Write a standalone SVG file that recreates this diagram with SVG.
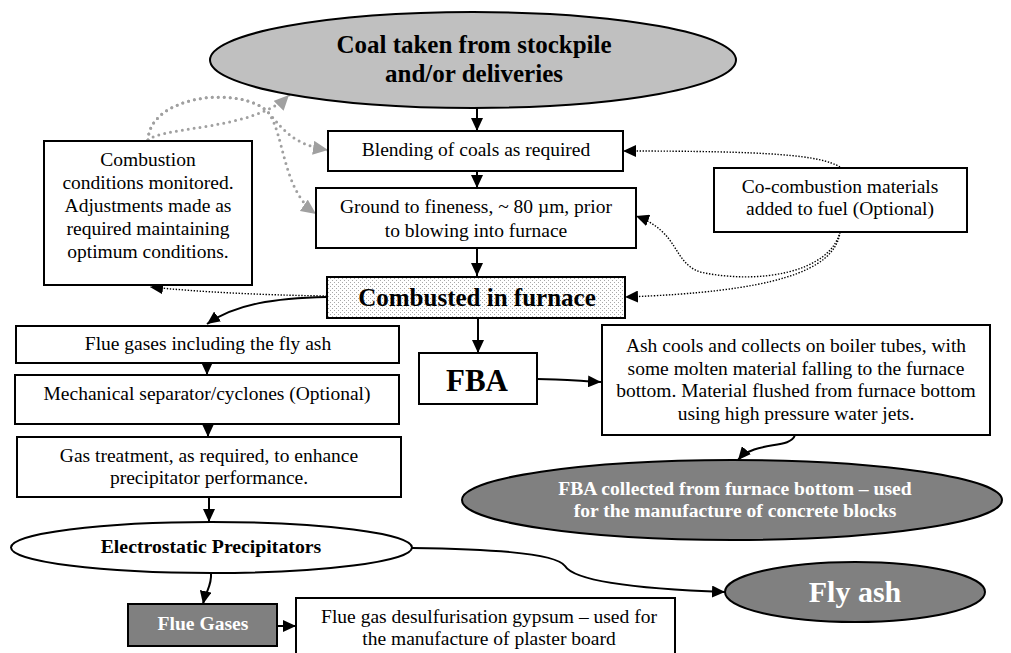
<svg xmlns="http://www.w3.org/2000/svg" width="1011" height="653" viewBox="0 0 1011 653">
<style>
text{font-family:'Liberation Serif','DejaVu Serif',serif;fill:#000;text-anchor:middle}
.r{font-size:19.5px}
.b{font-weight:bold}
.w{fill:#fff}
.box{fill:#fff;stroke:#000;stroke-width:2}
.dark{fill:#808080;stroke:#000;stroke-width:2}
.solid{fill:none;stroke:#000;stroke-width:2;marker-end:url(#ah)}
.dot{fill:none;stroke:#000;stroke-width:1.4;stroke-dasharray:1.4 1.6;marker-end:url(#ah)}
.gdot{fill:none;stroke:#a0a0a0;stroke-width:3;stroke-linecap:round;stroke-dasharray:0 6;marker-end:url(#gah)}
</style>
<defs>
<marker id="ah" markerUnits="userSpaceOnUse" markerWidth="13" markerHeight="12" refX="13" refY="6" orient="auto">
<path d="M0,0 L13,6 L0,12 z" fill="#000"/>
</marker>
<marker id="gah" markerUnits="userSpaceOnUse" markerWidth="15" markerHeight="14" refX="15" refY="7" orient="auto">
<path d="M0,0 L15,7 L0,14 z" fill="#a0a0a0"/>
</marker>
<pattern id="stip" width="4" height="4" patternUnits="userSpaceOnUse">
<rect width="4" height="4" fill="#fff"/>
<rect x="0" y="0" width="1" height="1" fill="#a8a8a8"/>
<rect x="2" y="2" width="1" height="1" fill="#a8a8a8"/>
</pattern>
</defs>

<g id="connectors">
<line class="solid" x1="477" y1="108" x2="477" y2="131"/>
<line class="solid" x1="477" y1="171" x2="477" y2="188"/>
<line class="solid" x1="477" y1="248" x2="477" y2="276"/>
<line class="solid" x1="478" y1="318" x2="478" y2="353"/>
<line class="solid" x1="207" y1="363" x2="207" y2="375"/>
<line class="solid" x1="208" y1="424" x2="208" y2="437"/>
<line class="solid" x1="209" y1="497" x2="209" y2="522"/>
<path class="solid" d="M537,379 C560,379 580,381 601,382"/>
<path class="solid" d="M327,297 C275,298 235,304 207,324"/>
<path class="solid" d="M795,435 C790,450 755,440 738,460"/>
<path class="solid" d="M211,573 C212,586 206,590 203,604"/>
<line class="solid" x1="277" y1="626" x2="296" y2="626"/>
<path class="solid" d="M412,548 C480,549 555,552 565,566 C575,582 640,589 725,592"/>
<path class="dot" d="M327,296 C260,295 200,292 150,287"/>
<path class="dot" d="M840,167 C820,155 770,151 623,151"/>
<path class="dot" d="M840,232 C830,272 760,285 700,272 C672,262 680,232 636,216"/>
<path class="dot" d="M840,232 C835,272 770,292 625,297"/>
<path class="gdot" d="M148,140 C150,95 240,85 268,112 C285,132 295,145 328,150"/>
<path class="gdot" d="M148,140 C150,95 240,85 268,112 C285,135 282,190 316,214"/>
<path class="gdot" d="M148,140 C165,126 255,130 289,95"/>
</g>

<g id="coal">
<ellipse cx="473" cy="60" rx="263" ry="48" fill="#c0c0c0" stroke="#000" stroke-width="2"/>
<text class="b" x="474" y="53" font-size="25">Coal taken from stockpile</text>
<text class="b" x="474" y="82" font-size="25">and/or deliveries</text>
</g>

<g id="blending">
<rect class="box" x="328" y="131" width="295" height="40"/>
<text class="r" x="476" y="156">Blending of coals as required</text>
</g>

<g id="ground">
<rect class="box" x="316" y="188" width="320" height="60"/>
<text class="r" x="476" y="213">Ground to fineness, ~ 80 µm, prior</text>
<text class="r" x="476" y="237">to blowing into furnace</text>
</g>

<g id="combusted">
<rect x="327" y="277" width="298" height="41" fill="url(#stip)" stroke="#000" stroke-width="2"/>
<text class="b" x="477" y="306" font-size="25">Combusted in furnace</text>
</g>

<g id="monitor">
<rect class="box" x="44" y="141" width="208" height="144"/>
<text class="r" x="148" y="166">Combustion</text>
<text class="r" x="148" y="189">conditions monitored.</text>
<text class="r" x="148" y="212">Adjustments made as</text>
<text class="r" x="148" y="235">required maintaining</text>
<text class="r" x="148" y="258">optimum conditions.</text>
</g>

<g id="cocombustion">
<rect class="box" x="714" y="168" width="253" height="64"/>
<text class="r" x="840" y="193">Co-combustion materials</text>
<text class="r" x="840" y="215">added to fuel (Optional)</text>
</g>

<g id="fba">
<rect class="box" x="419" y="353" width="118" height="51"/>
<text class="b" x="477" y="391" font-size="31">FBA</text>
</g>

<g id="ashcools">
<rect class="box" x="602" y="325" width="388" height="110"/>
<text class="r" x="796" y="352">Ash cools and collects on boiler tubes, with</text>
<text class="r" x="796" y="375">some molten material falling to the furnace</text>
<text class="r" x="796" y="397">bottom. Material flushed from furnace bottom</text>
<text class="r" x="796" y="420">using high pressure water jets.</text>
</g>

<g id="fbacollected">
<ellipse class="dark" cx="732" cy="500" rx="270" ry="40"/>
<text class="b w" x="735" y="495" font-size="19.6">FBA collected from furnace bottom – used</text>
<text class="b w" x="735" y="517" font-size="19.6">for the manufacture of concrete blocks</text>
</g>

<g id="fluegasesfly">
<rect class="box" x="16" y="326" width="383" height="37"/>
<text class="r" x="208" y="350">Flue gases including the fly ash</text>
</g>

<g id="mechanical">
<rect class="box" x="15" y="375" width="384" height="49"/>
<text class="r" x="207" y="400">Mechanical separator/cyclones (Optional)</text>
</g>

<g id="gastreatment">
<rect class="box" x="17" y="437" width="384" height="60"/>
<text class="r" x="209" y="462">Gas treatment, as required, to enhance</text>
<text class="r" x="209" y="484">precipitator performance.</text>
</g>

<g id="esp">
<ellipse cx="211.5" cy="547.5" rx="200.5" ry="25.5" fill="#fff" stroke="#000" stroke-width="2"/>
<text class="b" x="211" y="553" font-size="19.8">Electrostatic Precipitators</text>
</g>

<g id="fluegases">
<rect class="dark" x="128" y="604" width="149" height="42"/>
<text class="b w" x="203" y="630" font-size="19.6">Flue Gases</text>
</g>

<g id="gypsum">
<rect class="box" x="296" y="598" width="379" height="62"/>
<text class="r" x="489" y="623">Flue gas desulfurisation gypsum – used for</text>
<text class="r" x="489" y="645">the manufacture of plaster board</text>
</g>

<g id="flyash">
<ellipse class="dark" cx="855" cy="592" rx="130" ry="30"/>
<text class="b w" x="855" y="602" font-size="30">Fly ash</text>
</g>
</svg>
